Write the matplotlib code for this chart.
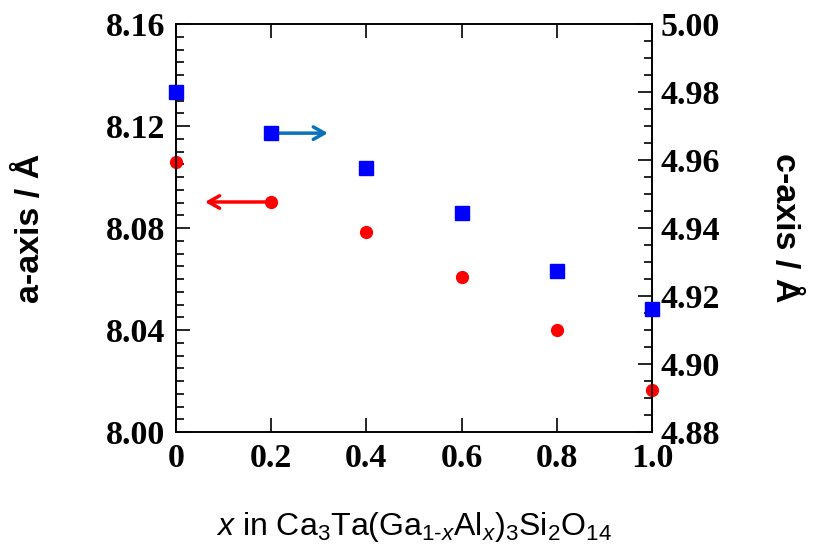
import numpy as np
import matplotlib.pyplot as plt
from matplotlib.ticker import MultipleLocator

# Data.
x_frac = [0.0, 0.2, 0.4, 0.6, 0.8, 1.0]
a_axis = [8.1059, 8.0902, 8.0784, 8.0608, 8.0400, 8.0166]
c_axis = [4.9800, 4.9679, 4.9576, 4.9444, 4.9274, 4.9163]

plt.rcParams['mathtext.fontset'] = 'custom'
plt.rcParams['mathtext.rm'] = 'Liberation Sans'
plt.rcParams['mathtext.it'] = 'Liberation Sans:italic'

fig = plt.figure(figsize=(8.14, 5.51), dpi=100)
ax = fig.add_axes([176/814, 1 - 432/551, 476/814, 408/551])
ax2 = ax.twinx()

tickfont = {'family': 'Liberation Serif', 'weight': 'bold', 'size': 24.5}

# a-axis (left, red circles)
ax.plot(x_frac, a_axis, 'o', color='red', markersize=8.5, clip_on=False, zorder=5)
ax.set_xlim(0, 1.0)
ax.set_ylim(8.00, 8.16)
ax.yaxis.set_major_locator(MultipleLocator(0.04))
ax.yaxis.set_minor_locator(MultipleLocator(0.005))
ax.set_xticks(x_frac)
ax.set_xticklabels(['0', '0.2', '0.4', '0.6', '0.8', '1.0'])
ax.set_yticklabels(['%.2f' % v for v in ax.get_yticks()])
ax.tick_params(axis='both', which='major', direction='in', length=10, width=1.2,
               top=True, pad=8)
ax.tick_params(axis='y', which='minor', direction='in', length=6, width=1.2)
for lab in ax.get_xticklabels() + ax.get_yticklabels():
    lab.set_fontproperties(tickfont)
ax.set_xlabel(r'$x$ in Ca$_3$Ta(Ga$_{1\text{-}x}$Al$_x$)$_3$Si$_2$O$_{14}$',
              family='Liberation Sans', fontsize=23, labelpad=26)
ax.set_ylabel('a-axis / Å', family='Liberation Sans', weight='bold',
              fontsize=24.5, labelpad=43)

# c-axis (right, blue squares)
ax2.plot(x_frac, c_axis, 's', color='blue', markersize=9.5, clip_on=False, zorder=5)
ax2.set_ylim(4.88, 5.00)
ax2.yaxis.set_minor_locator(MultipleLocator(0.005))
ax2.set_yticks(np.arange(4.88, 5.001, 0.02))
ax2.set_yticklabels(['%.2f' % v for v in np.arange(4.88, 5.001, 0.02)])
ax2.tick_params(axis='y', which='major', direction='in', length=10, width=1.2, pad=6)
ax2.tick_params(axis='y', which='minor', direction='in', length=6, width=1.2)
for lab in ax2.get_yticklabels():
    lab.set_fontproperties(tickfont)
ax2.set_ylabel('c-axis / Å', family='Liberation Sans', weight='bold',
               fontsize=24.5, rotation=270, labelpad=58)

for a in (ax, ax2):
    for sp in a.spines.values():
        sp.set_linewidth(1.2)

# Arrows showing which axis each series belongs to
ax.annotate('', xy=(0.055, a_axis[1]), xytext=(0.2, a_axis[1]),
            arrowprops=dict(arrowstyle='->,head_length=0.8,head_width=0.45',
                            color='red', lw=2.5))
ax2.annotate('', xy=(0.325, c_axis[1]), xytext=(0.2, c_axis[1]),
             arrowprops=dict(arrowstyle='->,head_length=0.8,head_width=0.45',
                             color='#0a72bd', lw=2.5))

fig.savefig('out.png', dpi=100)
